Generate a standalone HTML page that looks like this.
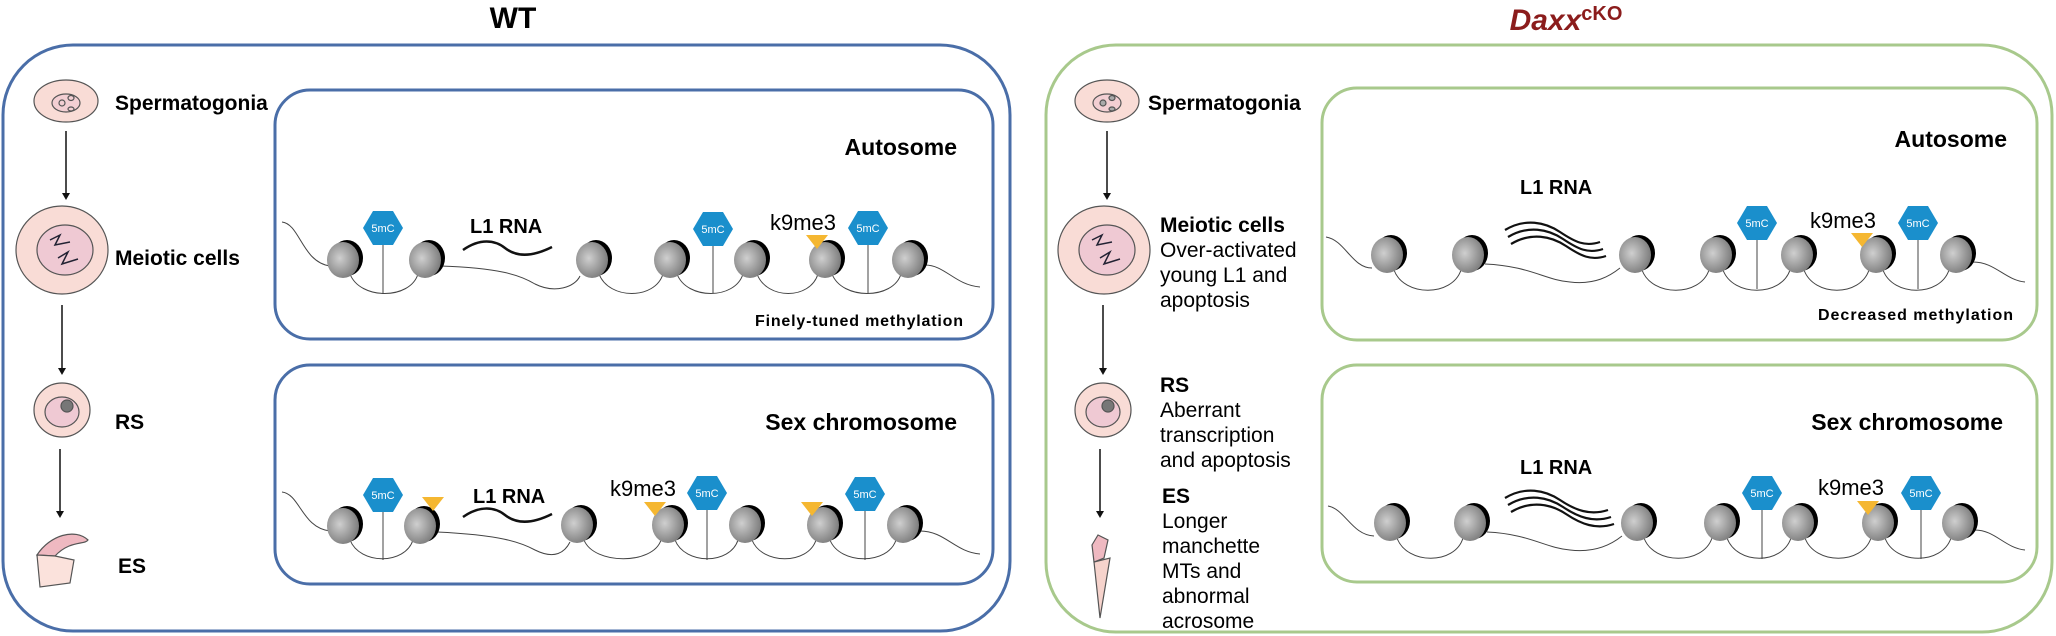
<!DOCTYPE html>
<html><head><meta charset="utf-8"><style>
html,body{margin:0;padding:0;background:#fff;}
svg{display:block;}
text{font-family:"Liberation Sans",Arial,sans-serif;}
</style></head><body>
<svg width="2056" height="636" viewBox="0 0 2056 636" xmlns="http://www.w3.org/2000/svg">
<defs>
<radialGradient id="gb" cx="0.4" cy="0.45" r="0.6">
<stop offset="0" stop-color="#cfcfcf"/><stop offset="1" stop-color="#7d7d7d"/></radialGradient>
<symbol id="nuc" overflow="visible">
<ellipse cx="4" cy="-2" rx="16" ry="18" fill="#000"/>
<ellipse cx="0" cy="0" rx="16" ry="18" fill="url(#gb)"/>
</symbol>
<symbol id="hex" overflow="visible">
<polygon points="-20,0 -10,-17 10,-17 20,0 10,17 -10,17" fill="#1a8fcc"/>
<text x="0" y="4" font-size="11" fill="#fff" text-anchor="middle">5mC</text>
</symbol>
<symbol id="tri" overflow="visible">
<polygon points="-11,0 11,0 0,14" fill="#f5b731"/>
</symbol>
</defs>

<text x="513" y="28" font-size="30" font-weight="bold" text-anchor="middle">WT</text>
<text x="1566" y="30" font-size="30" font-weight="bold" font-style="italic" fill="#8b1c1c" text-anchor="middle">Daxx<tspan font-size="20" font-style="normal" dy="-10">cKO</tspan></text>

<rect x="3" y="45" width="1007" height="586" rx="70" fill="none" stroke="#4a6ea8" stroke-width="3"/>
<rect x="1046" y="45" width="1006" height="587" rx="70" fill="none" stroke="#a8c98c" stroke-width="3"/>

<rect x="275" y="90" width="718" height="249" rx="35" fill="none" stroke="#4a6ea8" stroke-width="3"/>
<rect x="275" y="365" width="718" height="219" rx="35" fill="none" stroke="#4a6ea8" stroke-width="3"/>
<rect x="1322" y="88" width="715" height="252" rx="35" fill="none" stroke="#a8c98c" stroke-width="3"/>
<rect x="1322" y="365" width="715" height="217" rx="35" fill="none" stroke="#a8c98c" stroke-width="3"/>

<g stroke="#555" stroke-width="1.2">
<ellipse cx="66" cy="101" rx="32" ry="21" fill="#f9dcd6"/>
<ellipse cx="66" cy="103" rx="14" ry="9" fill="#f3cfd3"/>
<ellipse cx="62" cy="103" rx="3" ry="3" fill="#f3cfd3"/><ellipse cx="71" cy="98" rx="3" ry="2.5" fill="#f3cfd3"/><ellipse cx="71" cy="109" rx="3" ry="2" fill="#f3cfd3"/>
<ellipse cx="62" cy="250" rx="46" ry="44" fill="#f9dcd6"/>
<ellipse cx="65" cy="250" rx="28" ry="25" fill="#efc9d3"/>
<ellipse cx="62" cy="410" rx="28" ry="27" fill="#f9dcd6"/>
<ellipse cx="62" cy="412" rx="17" ry="15" fill="#efc9d3"/>
<circle cx="67" cy="406" r="6" fill="#777"/>
<path d="M37,555 C50,535 75,528 88,540 C85,545 70,540 55,556 Z" fill="#efb9c1"/>
<path d="M37,555 L40,587 L70,583 L74,560 L55,556 Z" fill="#fbe2dc"/>
</g>
<path d="M50,240 L60,235 L55,245 L70,242 M58,258 L68,252 L62,264 L78,259" stroke="#223" stroke-width="1.5" fill="none"/>
<g stroke="#111" stroke-width="1.5">
<line x1="66" y1="131" x2="66" y2="195"/><line x1="62" y1="305" x2="62" y2="370"/><line x1="60" y1="449" x2="60" y2="513"/>
</g>
<g fill="#111"><polygon points="62,193 70,193 66,200"/><polygon points="58,368 66,368 62,375"/><polygon points="56,511 64,511 60,518"/></g>
<g font-size="21" font-weight="bold">
<text x="115" y="110">Spermatogonia</text>
<text x="115" y="265">Meiotic cells</text>
<text x="115" y="429">RS</text>
<text x="118" y="573">ES</text>
</g>

<g stroke="#555" stroke-width="1.2">
<ellipse cx="1107" cy="101" rx="32" ry="21" fill="#f9dcd6"/>
<ellipse cx="1107" cy="103" rx="14" ry="9" fill="#f3cfd3"/>
<ellipse cx="1103" cy="103" rx="3" ry="3" fill="#aaa"/><ellipse cx="1112" cy="98" rx="3" ry="2.5" fill="#aaa"/><ellipse cx="1112" cy="109" rx="3" ry="2" fill="#aaa"/>
<ellipse cx="1104" cy="250" rx="46" ry="44" fill="#f9dcd6"/>
<ellipse cx="1107" cy="250" rx="28" ry="25" fill="#efc9d3"/>
<ellipse cx="1103" cy="410" rx="28" ry="27" fill="#f9dcd6"/>
<ellipse cx="1103" cy="412" rx="17" ry="15" fill="#efc9d3"/>
<circle cx="1108" cy="406" r="6" fill="#777"/>
<path d="M1092,545 L1098,535 L1108,540 L1104,558 L1094,562 Z" fill="#efb9c1"/>
<path d="M1094,562 L1110,558 L1100,618 Z" fill="#f6d3cc"/>
</g>
<path d="M1092,240 L1102,235 L1097,245 L1112,242 M1100,258 L1110,252 L1104,264 L1120,259" stroke="#223" stroke-width="1.5" fill="none"/>
<g stroke="#111" stroke-width="1.5">
<line x1="1107" y1="131" x2="1107" y2="195"/><line x1="1103" y1="305" x2="1103" y2="370"/><line x1="1100" y1="449" x2="1100" y2="513"/>
</g>
<g fill="#111"><polygon points="1103,193 1111,193 1107,200"/><polygon points="1099,368 1107,368 1103,375"/><polygon points="1096,511 1104,511 1100,518"/></g>
<g font-size="21">
<text x="1148" y="110" font-weight="bold">Spermatogonia</text>
<text x="1160" y="232" font-weight="bold">Meiotic cells</text>
<text x="1160" y="257">Over-activated</text>
<text x="1160" y="282">young L1 and</text>
<text x="1160" y="307">apoptosis</text>
<text x="1160" y="392" font-weight="bold">RS</text>
<text x="1160" y="417">Aberrant</text>
<text x="1160" y="442">transcription</text>
<text x="1160" y="467">and apoptosis</text>
<text x="1162" y="503" font-weight="bold">ES</text>
<text x="1162" y="528">Longer</text>
<text x="1162" y="553">manchette</text>
<text x="1162" y="578">MTs and</text>
<text x="1162" y="603">abnormal</text>
<text x="1162" y="628">acrosome</text>
</g>

<text x="957" y="155" font-size="23" font-weight="bold" text-anchor="end">Autosome</text>
<text x="755" y="326" font-size="16" font-weight="bold" textLength="208">Finely-tuned methylation</text>
<g fill="none" stroke="#444" stroke-width="1">
<path d="M282,222 C300,224 302,262 330,266"/>
<path d="M350,274 C360,300 410,300 418,274"/>
<path d="M440,266 C500,268 520,275 535,284 C555,294 575,287 580,276"/>
<path d="M599,274 C609,300 655,300 663,274"/>
<path d="M677,274 C687,300 735,300 743,274"/>
<path d="M757,274 C767,300 810,300 818,274"/>
<path d="M832,274 C842,300 893,300 901,274"/>
<path d="M925,265 C945,265 955,285 980,287"/>
<line x1="383" y1="245" x2="383" y2="293"/><line x1="713" y1="246" x2="713" y2="293"/><line x1="868" y1="245" x2="868" y2="293"/>
</g>
<path d="M463,250 C480,238 495,240 505,248 C515,256 530,258 552,247" fill="none" stroke="#111" stroke-width="2.5"/>
<text x="470" y="233" font-size="20" font-weight="bold">L1 RNA</text>
<text x="770" y="230" font-size="22">k9me3</text>
<use href="#nuc" x="343" y="260"/><use href="#nuc" x="425" y="260"/><use href="#nuc" x="592" y="260"/><use href="#nuc" x="670" y="260"/><use href="#nuc" x="750" y="260"/><use href="#nuc" x="825" y="260"/><use href="#nuc" x="908" y="260"/>
<use href="#hex" x="383" y="228"/><use href="#hex" x="713" y="229"/><use href="#hex" x="868" y="228"/>
<use href="#tri" x="817" y="235"/>

<text x="957" y="430" font-size="23" font-weight="bold" text-anchor="end">Sex chromosome</text>
<g fill="none" stroke="#444" stroke-width="1">
<path d="M282,492 C300,494 302,528 330,531"/>
<path d="M350,540 C360,565 405,565 413,540"/>
<path d="M437,532 C500,535 520,542 535,550 C555,560 565,552 570,542"/>
<path d="M584,540 C594,565 653,565 661,540"/>
<path d="M675,540 C685,565 730,565 738,540"/>
<path d="M752,540 C762,565 808,565 816,540"/>
<path d="M830,540 C840,565 888,565 896,540"/>
<path d="M920,531 C945,531 955,552 980,554"/>
<line x1="383" y1="512" x2="383" y2="560"/><line x1="707" y1="510" x2="707" y2="560"/><line x1="865" y1="511" x2="865" y2="560"/>
</g>
<path d="M463,517 C480,505 495,507 505,515 C515,523 530,525 552,514" fill="none" stroke="#111" stroke-width="2.5"/>
<text x="473" y="503" font-size="20" font-weight="bold">L1 RNA</text>
<text x="610" y="496" font-size="22">k9me3</text>
<use href="#nuc" x="343" y="526"/><use href="#nuc" x="420" y="526"/><use href="#nuc" x="577" y="525"/><use href="#nuc" x="668" y="525"/><use href="#nuc" x="745" y="525"/><use href="#nuc" x="823" y="525"/><use href="#nuc" x="903" y="525"/>
<use href="#hex" x="383" y="495"/><use href="#hex" x="707" y="493"/><use href="#hex" x="865" y="494"/>
<use href="#tri" x="433" y="497"/><use href="#tri" x="655" y="502"/><use href="#tri" x="812" y="502"/>

<text x="2007" y="147" font-size="23" font-weight="bold" text-anchor="end">Autosome</text>
<text x="1818" y="320" font-size="16" font-weight="bold" textLength="195">Decreased methylation</text>
<g fill="none" stroke="#444" stroke-width="1">
<path d="M1326,237 C1345,240 1352,268 1372,268"/>
<path d="M1394,270 C1404,297 1452,297 1461,270"/>
<path d="M1485,264 C1530,266 1545,280 1570,282 C1595,285 1610,276 1620,268"/>
<path d="M1642,270 C1652,297 1700,297 1709,270"/>
<path d="M1723,270 C1733,297 1781,297 1790,270"/>
<path d="M1804,270 C1814,297 1860,297 1869,270"/>
<path d="M1883,270 C1893,297 1940,297 1949,270"/>
<path d="M1973,262 C1995,262 2005,280 2025,282"/>
<line x1="1757" y1="240" x2="1757" y2="289"/><line x1="1918" y1="240" x2="1918" y2="289"/>
</g>
<g fill="none" stroke="#111" stroke-width="2.2">
<path d="M1505,230 C1525,218 1545,222 1560,232 C1575,242 1585,247 1600,242"/>
<path d="M1508,237 C1528,225 1548,229 1563,239 C1578,249 1588,254 1603,249"/>
<path d="M1511,244 C1531,232 1551,236 1566,246 C1581,256 1591,261 1606,256"/>
</g>
<text x="1520" y="194" font-size="20" font-weight="bold">L1 RNA</text>
<text x="1810" y="228" font-size="22">k9me3</text>
<use href="#nuc" x="1387" y="255"/><use href="#nuc" x="1468" y="255"/><use href="#nuc" x="1635" y="255"/><use href="#nuc" x="1716" y="255"/><use href="#nuc" x="1797" y="255"/><use href="#nuc" x="1876" y="255"/><use href="#nuc" x="1956" y="255"/>
<use href="#hex" x="1757" y="223"/><use href="#hex" x="1918" y="223"/>
<use href="#tri" x="1862" y="233"/>

<text x="2003" y="430" font-size="23" font-weight="bold" text-anchor="end">Sex chromosome</text>
<g fill="none" stroke="#444" stroke-width="1">
<path d="M1328,506 C1345,509 1352,535 1374,536"/>
<path d="M1397,538 C1407,565 1455,565 1463,538"/>
<path d="M1487,532 C1530,534 1545,548 1570,550 C1595,553 1612,544 1622,536"/>
<path d="M1644,538 C1654,565 1703,565 1712,538"/>
<path d="M1727,538 C1737,565 1782,565 1791,538"/>
<path d="M1805,538 C1815,565 1862,565 1871,538"/>
<path d="M1885,538 C1895,565 1942,565 1951,538"/>
<path d="M1975,530 C1995,530 2005,548 2025,550"/>
<line x1="1762" y1="510" x2="1762" y2="559"/><line x1="1921" y1="510" x2="1921" y2="559"/>
</g>
<g fill="none" stroke="#111" stroke-width="2.2">
<path d="M1505,498 C1525,486 1545,490 1560,500 C1575,510 1590,516 1608,510"/>
<path d="M1508,505 C1528,493 1548,497 1563,507 C1578,517 1593,523 1611,517"/>
<path d="M1511,512 C1531,500 1551,504 1566,514 C1581,524 1596,530 1614,524"/>
</g>
<text x="1520" y="474" font-size="20" font-weight="bold">L1 RNA</text>
<text x="1818" y="495" font-size="22">k9me3</text>
<use href="#nuc" x="1390" y="523"/><use href="#nuc" x="1470" y="523"/><use href="#nuc" x="1637" y="523"/><use href="#nuc" x="1720" y="523"/><use href="#nuc" x="1798" y="523"/><use href="#nuc" x="1878" y="523"/><use href="#nuc" x="1958" y="523"/>
<use href="#hex" x="1762" y="493"/><use href="#hex" x="1921" y="493"/>
<use href="#tri" x="1868" y="501"/>
</svg>
</body></html>
